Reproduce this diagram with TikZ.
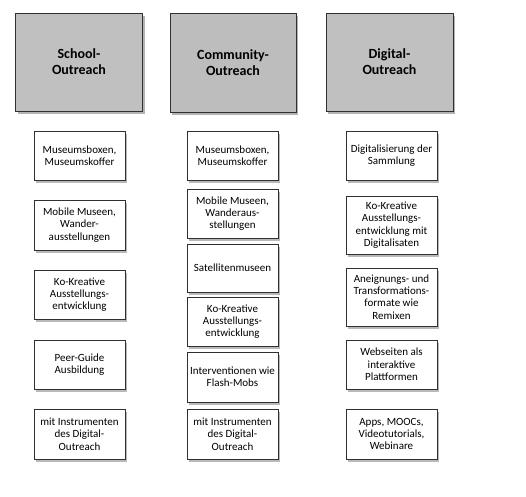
\documentclass[tikz,border=0pt]{standalone}
\usepackage{fontspec}
\setmainfont{Carlito}
\usepackage{tikz}
\usetikzlibrary{positioning,shadows}
\definecolor{HeadGray}{HTML}{C0C0C0}
\definecolor{EdgeGray}{HTML}{303030}

\begin{document}
\begin{tikzpicture}[x=1pt, y=-1pt,
  headbox/.style={draw=EdgeGray, line width=0.9pt, fill=HeadGray, minimum width=127pt, minimum height=98pt,
    align=center, font=\fontsize{14}{16}\selectfont\bfseries,
    drop shadow={shadow xshift=2pt, shadow yshift=-2.5pt, opacity=0.6, fill=gray}},
  itembox/.style={draw=EdgeGray, line width=0.8pt, fill=white, minimum width=91pt, minimum height=49pt,
    inner sep=1pt, align=center, font=\fontsize{11}{12.3}\selectfont,
    drop shadow={shadow xshift=2pt, shadow yshift=-2.5pt, opacity=0.55, fill=gray}},
  tallbox/.style={itembox, minimum height=58pt}]
  \useasboundingbox (0,0) rectangle (526,496);
  % headers
  \node[headbox] (school) at (79,62) {School-\\Outreach};
  \node[headbox, minimum width=126pt, minimum height=99pt, fill=HeadGray!95!gray] (community) at (233,62.5) {Community-\\Outreach};
  \node[headbox] (digital) at (389.5,62) {Digital-\\Outreach};
  % school column
  \node[itembox] (s1) at (79.5,155.5) {Museumsboxen,\\Museumskoffer};
  \node[itembox, minimum height=50pt] (s2) at (79.5,225) {Mobile Museen,\\Wander-\\ausstellungen};
  \node[itembox] (s3) at (79.5,294.5) {Ko-Kreative\\Ausstellungs-\\entwicklung};
  \node[itembox] (s4) at (79.5,364.5) {Peer-Guide\\Ausbildung};
  \node[itembox, minimum height=50pt] (s5) at (79.5,434) {mit Instrumenten\\des Digital-\\Outreach};
  % community column
  \node[itembox] (c1) at (232.5,155.5) {Museumsboxen,\\Museumskoffer};
  \node[itembox] (c2) at (232.5,213.5) {Mobile Museen,\\Wanderaus-\\stellungen};
  \node[itembox, minimum height=48pt] (c3) at (232.5,268) {Satellitenmuseen};
  \node[itembox] (c4) at (232.5,321.5) {Ko-Kreative\\Ausstellungs-\\entwicklung};
  \node[itembox, minimum height=50pt] (c5) at (232.5,377) {Interventionen wie\\Flash-Mobs};
  \node[itembox, minimum height=50pt] (c6) at (232.5,434) {mit Instrumenten\\des Digital-\\Outreach};
  % digital column
  \node[itembox] (d1) at (391.5,155.5) {Digitalisierung der\\Sammlung};
  \node[tallbox] (d2) at (391.5,225) {Ko-Kreative\\Ausstellungs-\\entwicklung mit\\Digitalisaten};
  \node[tallbox] (d3) at (391.5,297) {Aneignungs- und\\Transformations-\\formate wie\\Remixen};
  \node[itembox] (d4) at (391.5,364.5) {Webseiten als\\interaktive\\Plattformen};
  \node[itembox, minimum height=50pt] (d5) at (391.5,434) {Apps, MOOCs,\\Videotutorials,\\Webinare};
\end{tikzpicture}
\end{document}
